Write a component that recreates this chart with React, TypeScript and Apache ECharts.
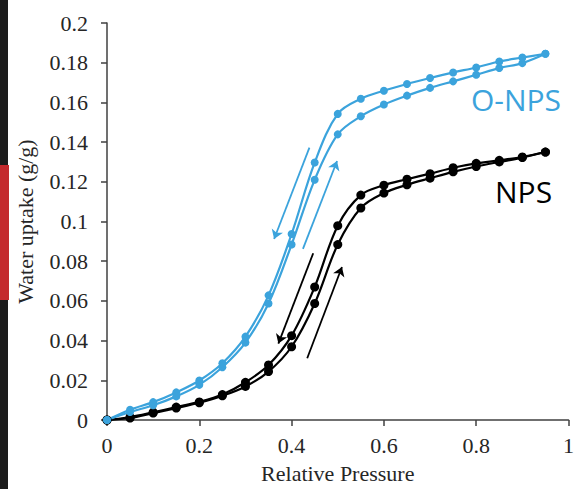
import React, { useEffect, useRef } from "react";
import * as echarts from "echarts";

const pressure = [0, 0.05, 0.1, 0.15, 0.2, 0.25, 0.3, 0.35, 0.4, 0.45, 0.5, 0.55, 0.6, 0.65, 0.7, 0.75, 0.8, 0.85, 0.9, 0.95];

const onpsDesorption = [0, 0.0052, 0.009, 0.0139, 0.0199, 0.0286, 0.042, 0.0628, 0.0937, 0.1297, 0.1542, 0.1618, 0.1659, 0.1693, 0.1723, 0.1751, 0.1776, 0.1806, 0.1826, 0.1845];
const onpsAdsorption = [0, 0.004, 0.0074, 0.0119, 0.0177, 0.0266, 0.039, 0.0587, 0.0884, 0.121, 0.1439, 0.153, 0.1589, 0.1634, 0.1673, 0.1706, 0.1739, 0.1773, 0.1798, 0.1845];
const npsDesorption = [0, 0.0015, 0.0039, 0.0065, 0.0091, 0.0128, 0.019, 0.0277, 0.0425, 0.067, 0.0979, 0.1133, 0.1183, 0.1213, 0.1241, 0.1271, 0.1293, 0.1308, 0.1325, 0.135];
const npsAdsorption = [0, 0.001, 0.0035, 0.006, 0.0087, 0.0122, 0.0169, 0.0244, 0.0369, 0.0587, 0.0884, 0.1068, 0.1143, 0.1185, 0.1218, 0.125, 0.1277, 0.13, 0.1322, 0.135];

const blueArrows = [
  [[0.4386, 0.1372], [0.3621, 0.0912]],
  [[0.4246, 0.0862], [0.4985, 0.1305]],
];
const blackArrows = [
  [[0.4468, 0.084], [0.3713, 0.0385]],
  [[0.4338, 0.0311], [0.5091, 0.0771]],
];

const BLUE = "#3ba3dc";
const BLACK = "#000000";
const SERIF = "Liberation Serif";

function pairs(ys: number[]) {
  return ys.map((y, i) => [pressure[i], y]);
}

export default function App() {
  const ref = useRef<HTMLDivElement>(null);
  useEffect(() => {
    if (!ref.current) return;
    const chart = echarts.init(ref.current, undefined, { renderer: "svg" });
    const lineSeries = (name: string, ys: number[], color: string, size: number) => ({
      name,
      type: "line",
      data: pairs(ys),
      smooth: 0.35,
      symbol: "circle",
      symbolSize: size,
      itemStyle: { color },
      lineStyle: { color, width: 2.2 },
      z: 3,
    });
    const arrowSeries = (arrs: number[][][], color: string) => ({
      type: "lines",
      coordinateSystem: "cartesian2d",
      symbol: ["none", "arrow"],
      symbolSize: 9,
      lineStyle: { color, width: 1.8, opacity: 1 },
      data: arrs.map((c) => ({ coords: c })),
      z: 4,
    });
    const labelStyle = { fontFamily: SERIF, fontSize: 22, color: "#262626" };
    chart.setOption({
      animation: false,
      backgroundColor: "#ffffff",
      textStyle: { fontFamily: SERIF },
      grid: { left: 107, top: 23, right: 6, bottom: 67, containLabel: false },
      xAxis: {
        type: "value",
        min: 0,
        max: 1,
        interval: 0.2,
        name: "Relative Pressure",
        nameLocation: "middle",
        nameGap: 42,
        nameTextStyle: labelStyle,
        axisLine: { show: true, lineStyle: { color: "#404040", width: 1.5 } },
        axisTick: { show: true, inside: false, length: 6, lineStyle: { color: "#404040", width: 1.5 } },
        axisLabel: {
          margin: 14,
          ...labelStyle,
          formatter: (v: number) => String(+v.toFixed(2)),
        },
        splitLine: { show: false },
      },
      yAxis: {
        type: "value",
        min: 0,
        max: 0.2,
        interval: 0.02,
        name: "Water uptake (g/g)",
        nameLocation: "middle",
        nameGap: 71,
        nameRotate: 90,
        nameTextStyle: labelStyle,
        axisLine: { show: true, lineStyle: { color: "#404040", width: 1.5 } },
        axisTick: { show: true, inside: false, length: 6, lineStyle: { color: "#404040", width: 1.5 } },
        axisLabel: {
          margin: 19,
          ...labelStyle,
          formatter: (v: number) => String(+v.toFixed(2)),
        },
        splitLine: { show: false },
      },
      graphic: [
        { type: "rect", left: 0, top: 0, shape: { width: 8, height: 489 }, style: { fill: "#1c1c1c" }, z: 10 },
        { type: "rect", left: 0, top: 165, shape: { width: 9, height: 135 }, style: { fill: "#c42a2e" }, z: 11 },
        {
          type: "text",
          left: 471,
          top: 84,
          style: { text: "O-NPS", fill: BLUE, font: "30px 'Open Sans'" },
          z: 10,
        },
        {
          type: "text",
          left: 495,
          top: 176,
          style: { text: "NPS", fill: BLACK, font: "30px 'Open Sans'" },
          z: 10,
        },
      ],
      series: [
        lineSeries("NPS adsorption", npsAdsorption, BLACK, 9),
        lineSeries("NPS desorption", npsDesorption, BLACK, 9),
        lineSeries("O-NPS adsorption", onpsAdsorption, BLUE, 8),
        lineSeries("O-NPS desorption", onpsDesorption, BLUE, 8),
        arrowSeries(blueArrows, BLUE),
        arrowSeries(blackArrows, BLACK),
      ],
    });
    return () => chart.dispose();
  }, []);
  return (
    <div
      ref={ref}
      style={{ position: "absolute", left: 0, top: 0, width: 577, height: 489, background: "#fff" }}
    />
  );
}
